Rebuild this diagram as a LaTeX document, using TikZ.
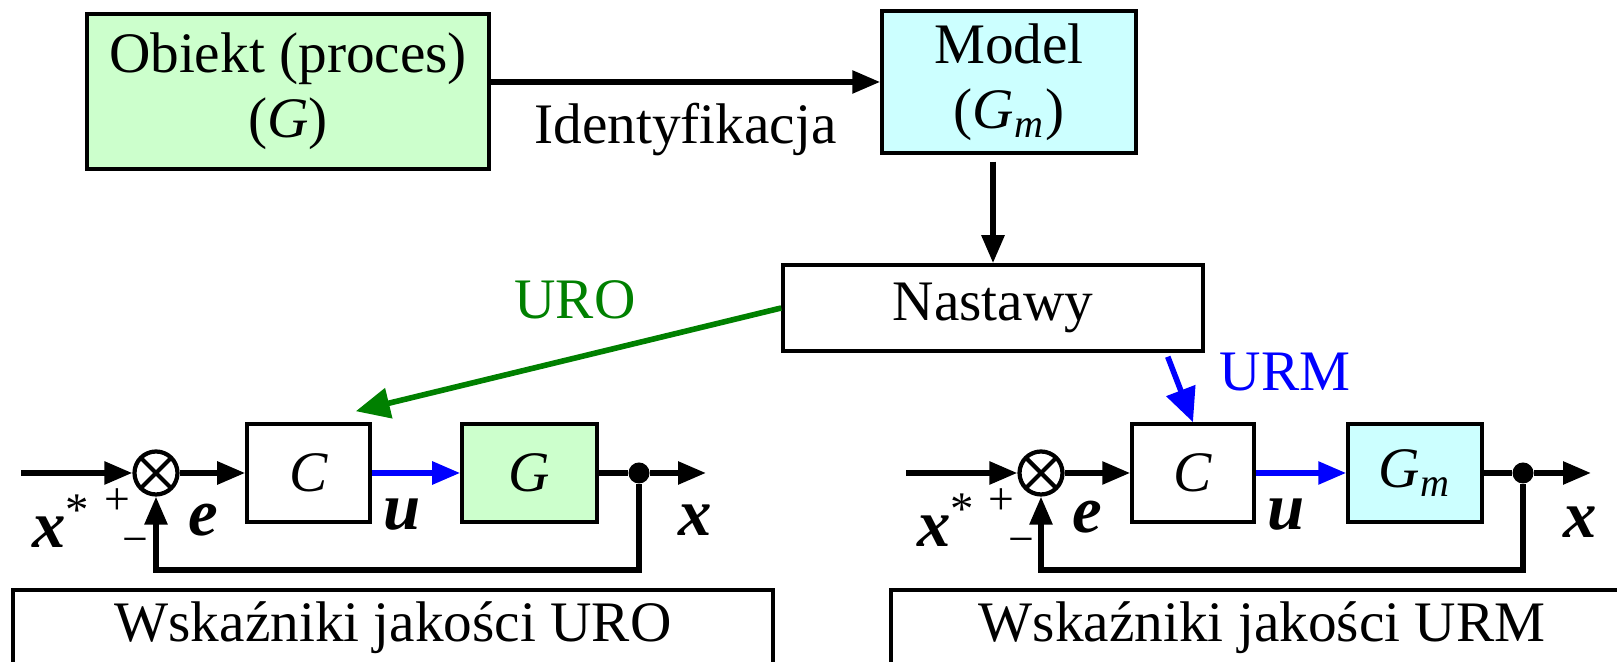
\documentclass[tikz,border=0pt]{standalone}
\usepackage{amsmath}
\usepackage{fontspec}
\setmainfont{Liberation Serif}
\usepackage{tikz}
\usetikzlibrary{arrows.meta, positioning}

\definecolor{jasnyziel}{RGB}{204,255,204}
\definecolor{jasnycyan}{RGB}{204,255,255}
\definecolor{ciemnyziel}{RGB}{0,128,0}

\tikzset{
  blok/.style={draw, line width=1pt, inner sep=0pt, align=center},
  sumator/.style={draw, circle, line width=1.2pt, minimum size=4.3mm, inner sep=0pt,
    path picture={\draw[line width=1.2pt] (path picture bounding box.north west) -- (path picture bounding box.south east)
      (path picture bounding box.south west) -- (path picture bounding box.north east);}},
  punkt/.style={circle, fill, inner sep=0pt, minimum size=2.1mm},
  sygnal/.style={line width=1.6pt, -{Triangle[length=2.8mm,width=2.2mm]}},
  nastawa/.style={line width=1.6pt, -{Triangle[length=3.4mm,width=3mm]}},
  etykieta/.style={font=\fontsize{19}{21}\selectfont\bfseries\itshape},
  znak/.style={font=\fontsize{13}{15}\selectfont},
}

\begin{document}
\begin{tikzpicture}[font=\fontsize{16.3}{18.5}\selectfont]
    \useasboundingbox (0,0) rectangle (16.17,6.62);
    % gora: obiekt, model, nastawy
    \node[blok, fill=jasnyziel, minimum width=4.02cm, minimum height=1.55cm] (obiekt) at (2.88,5.705) {Obiekt (proces)\\(\textit{G})};
    \node[blok, fill=jasnycyan, minimum width=2.54cm, minimum height=1.42cm] (model) at (10.09,5.80) {Model\\(\textit{G}\textsubscript{\textit{m}})};
    \node[blok, minimum width=4.2cm, minimum height=0.86cm] (nastawy) at (9.93,3.54) {Nastawy};
    \draw[sygnal] (obiekt.east |- model.west) -- node[below=2pt] {Identyfikacja} (model.west);
    \draw[sygnal, shorten <=0.7mm] (model.south -| nastawy.north) -- (nastawy.north);

    % uklad regulacji z obiektem (URO)
    \node[sumator] (s1) at (1.56,1.89) {};
    \node[blok, minimum width=1.23cm, minimum height=0.98cm] (c1) at (3.085,1.89) {\textit{C}};
    \node[blok, fill=jasnyziel, minimum width=1.35cm, minimum height=0.98cm] (g1) at (5.295,1.89) {\textit{G}};
    \node[punkt] (w1) at (6.39,1.89) {};
    \coordinate (we1) at (0.21,1.89);
    \coordinate (wy1) at (7.06,1.89);
    \draw[sygnal] (we1) -- (s1);
    \draw[sygnal] (s1) -- (c1);
    \draw[sygnal, blue] (c1) -- (g1);
    \draw[line width=1.6pt] (g1) -- (w1);
    \draw[sygnal] (w1) -- (wy1);
    \draw[sygnal] (w1) -- ++(0,-0.97) -| (s1);
    \node[etykieta, anchor=base west] (xz1) at (0.2,1.14) {x\textsuperscript{\mdseries\upshape *}};
    \node[znak] (plus1) at (1.17,1.60) {+};
    \node[znak] (minus1) at (1.35,1.16) {−};
    \node[etykieta] (e1) at (2.03,1.42) {e};
    \node[etykieta] (u1) at (4.02,1.47) {u};
    \node[etykieta] (x1) at (6.95,1.42) {x};
    \node[blok, minimum width=7.6cm, minimum height=0.76cm] (wsk1) at (3.93,0.34) {Wskaźniki jakości URO};

    % uklad regulacji z modelem (URM)
    \node[sumator] (s2) at (10.41,1.89) {};
    \node[blok, minimum width=1.22cm, minimum height=0.98cm] (c2) at (11.93,1.89) {\textit{C}};
    \node[blok, fill=jasnycyan, minimum width=1.34cm, minimum height=0.98cm] (g2) at (14.15,1.89) {\textit{G}\textsubscript{\textit{m}}};
    \node[punkt] (w2) at (15.23,1.89) {};
    \coordinate (we2) at (9.06,1.89);
    \coordinate (wy2) at (15.91,1.89);
    \draw[sygnal] (we2) -- (s2);
    \draw[sygnal] (s2) -- (c2);
    \draw[sygnal, blue] (c2) -- (g2);
    \draw[line width=1.6pt] (g2) -- (w2);
    \draw[sygnal] (w2) -- (wy2);
    \draw[sygnal] (w2) -- ++(0,-0.97) -| (s2);
    \node[etykieta, anchor=base west] (xz2) at (9.05,1.15) {x\textsuperscript{\mdseries\upshape *}};
    \node[znak] (plus2) at (10.01,1.60) {+};
    \node[znak] (minus2) at (10.21,1.16) {−};
    \node[etykieta] (e2) at (10.87,1.45) {e};
    \node[etykieta] (u2) at (12.86,1.47) {u};
    \node[etykieta] (x2) at (15.80,1.40) {x};
    \node[blok, minimum width=7.42cm, minimum height=0.76cm] (wsk2) at (12.62,0.34) {Wskaźniki jakości URM};

    % nastawy do regulatorow
    \coordinate (uro) at ([shift={(-0.16,0.11)}]c1.north east);
    \coordinate (urm) at ([shift={(-0.37,-0.04)}]nastawy.south east);
    \draw[nastawa, ciemnyziel] (nastawy.west) -- (uro);
    \draw[nastawa, blue] (urm) -- (c2.north);
    \node[text=ciemnyziel] (urolab) at (5.75,3.62) {URO};
    \node[text=blue] (urmlab) at (12.85,2.90) {URM};
\end{tikzpicture}
\end{document}
